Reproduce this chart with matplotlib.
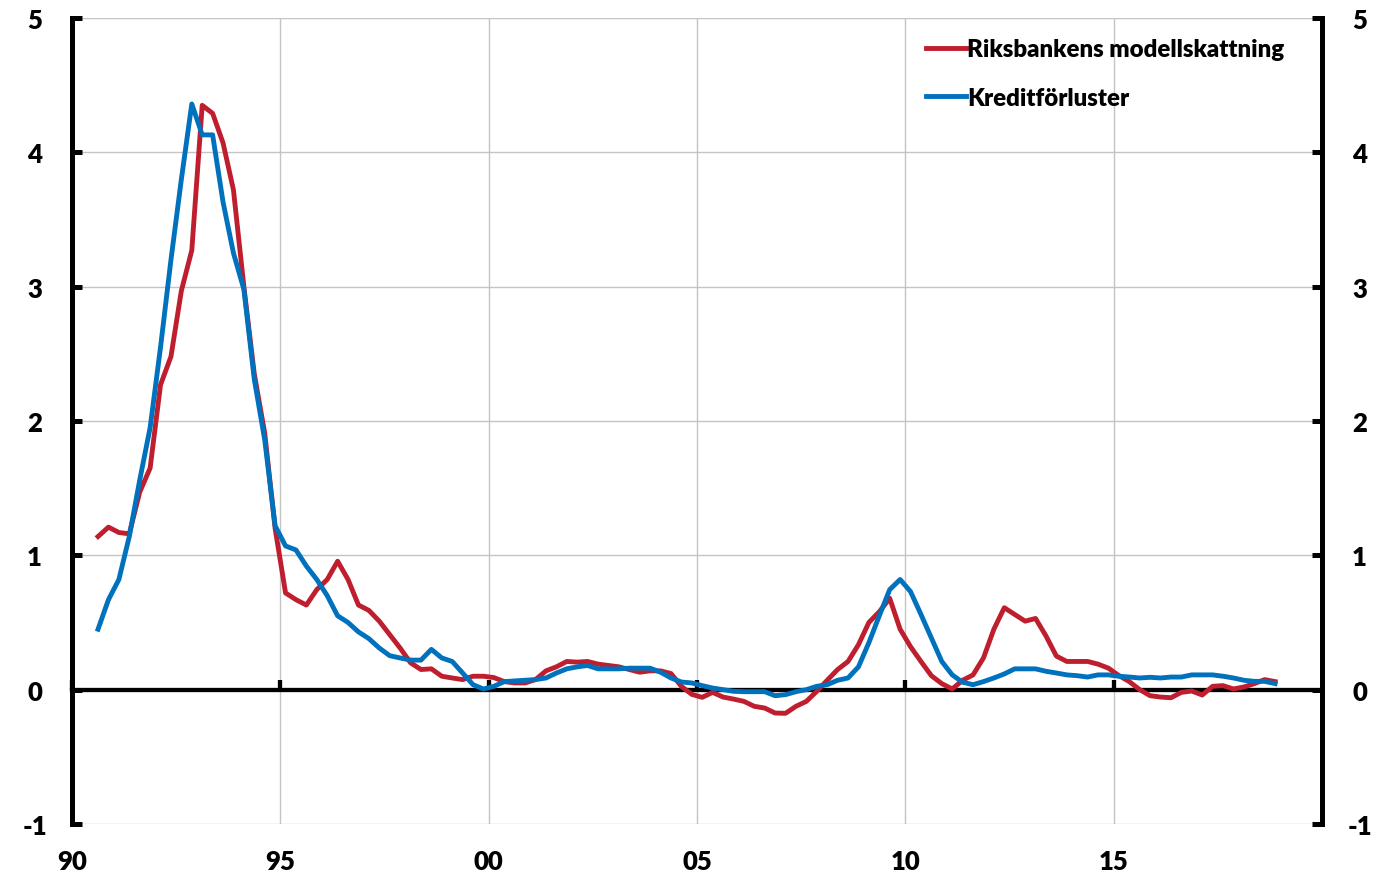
import numpy as np
import pandas as pd
import matplotlib
matplotlib.use("Agg")
import matplotlib.pyplot as plt

plt.rcParams['font.family'] = ['Lato', 'DejaVu Sans']
plt.rcParams['font.weight'] = 'heavy'

# Quarterly data, 1990Q3 - 2018Q4
start_quarter = '1990Q3'
end_quarter = '2018Q4'

riksbank_model = [
    1.14, 1.21, 1.17, 1.16, 1.47, 1.65, 2.27, 2.48, 2.97, 3.27,
    4.35, 4.29, 4.07, 3.72, 3.00, 2.35, 1.91, 1.20, 0.72, 0.67,
    0.63, 0.745, 0.82, 0.956, 0.82, 0.63, 0.59, 0.51, 0.41, 0.31,
    0.20, 0.15, 0.155, 0.10, 0.087, 0.075, 0.10, 0.10, 0.09, 0.06,
    0.05, 0.05, 0.075, 0.14, 0.17, 0.21, 0.205, 0.21, 0.19, 0.18,
    0.17, 0.15, 0.13, 0.14, 0.14, 0.12, 0.025, -0.035, -0.057, -0.02,
    -0.055, -0.07, -0.087, -0.124, -0.137, -0.174, -0.176, -0.124, -0.087, -0.012,
    0.07, 0.15, 0.21, 0.335, 0.50, 0.58, 0.68, 0.45, 0.32, 0.21,
    0.104, 0.045, 0.005, 0.07, 0.11, 0.236, 0.45, 0.61, 0.56, 0.51,
    0.53, 0.40, 0.25, 0.21, 0.21, 0.21, 0.19, 0.16, 0.105, 0.06,
    0.0, -0.045, -0.055, -0.06, -0.02, -0.01, -0.04, 0.025, 0.03, 0.005,
    0.02, 0.045, 0.075, 0.06,
]

credit_losses = [
    0.45, 0.67, 0.82, 1.14, 1.56, 1.95, 2.55, 3.20, 3.80, 4.36,
    4.13, 4.13, 3.63, 3.25, 2.98, 2.31, 1.86, 1.22, 1.07, 1.04,
    0.92, 0.82, 0.70, 0.55, 0.50, 0.43, 0.38, 0.31, 0.253, 0.236,
    0.22, 0.22, 0.30, 0.236, 0.21, 0.124, 0.037, 0.005, 0.025, 0.06,
    0.065, 0.07, 0.075, 0.087, 0.124, 0.155, 0.17, 0.18, 0.155, 0.155,
    0.155, 0.16, 0.16, 0.16, 0.13, 0.087, 0.057, 0.05, 0.03, 0.012,
    0.0, -0.012, -0.015, -0.015, -0.015, -0.045, -0.037, -0.015, 0.0, 0.025,
    0.037, 0.07, 0.087, 0.17, 0.35, 0.55, 0.745, 0.82, 0.73, 0.56,
    0.385, 0.21, 0.11, 0.055, 0.037, 0.06, 0.087, 0.117, 0.155, 0.155,
    0.155, 0.137, 0.124, 0.11, 0.104, 0.094, 0.11, 0.11, 0.10, 0.094,
    0.087, 0.092, 0.087, 0.094, 0.094, 0.11, 0.11, 0.11, 0.10, 0.087,
    0.07, 0.062, 0.062, 0.045,
]

series_labels = ['Riksbankens modellskattning', 'Kreditförluster']
x_tick_years = [1990, 1995, 2000, 2005, 2010, 2015]
x_tick_labels = ['90', '95', '00', '05', '10', '15']
y_ticks = [-1, 0, 1, 2, 3, 4, 5]

periods = pd.period_range(start_quarter, end_quarter, freq='Q')
x = periods.year + (periods.quarter - 0.5) / 4.0

RED = '#BE1E2D'
BLUE = '#0071BC'

fig = plt.figure(figsize=(13.77, 8.78), dpi=100)
ax = fig.add_axes([72 / 1377, 1 - 825 / 878, (1322 - 72) / 1377, (825 - 19) / 878])

ax.plot(x, riksbank_model, color=RED, lw=3.5, label=series_labels[0], zorder=4,
        solid_joinstyle='round')
ax.plot(x, credit_losses, color=BLUE, lw=3.5, label=series_labels[1], zorder=5,
        solid_joinstyle='round')

ax.set_xlim(1990, 2020)
ax.set_ylim(-1, 5)

# grid
ax.set_yticks(y_ticks)
ax.set_xticks(x_tick_years)
ax.grid(True, color='#c4c4c4', lw=1.0, zorder=0)
ax.set_axisbelow(True)

# spines
for s in ['left', 'right']:
    ax.spines[s].set_linewidth(3.6)
    ax.spines[s].set_color('black')
ax.spines['top'].set_visible(False)
ax.spines['bottom'].set_position(('data', 0))
ax.spines['bottom'].set_linewidth(3.1)
ax.spines['bottom'].set_zorder(3)

ax.tick_params(axis='y', which='both', direction='in', length=7, width=3.6,
               left=True, right=True, labelleft=True, labelright=True,
               labelsize=18.5, pad=27)
ax.tick_params(axis='x', direction='in', length=7, width=3.1, bottom=True,
               labelbottom=False)
ax.set_yticklabels([str(v) for v in y_ticks], fontweight='heavy')
for lbl in ax.get_yticklabels():
    lbl.set_horizontalalignment('center')

sec = ax.secondary_xaxis(location=0.0)
sec.set_xticks(x_tick_years)
sec.set_xticklabels(x_tick_labels, fontsize=18.5, fontweight='heavy')
sec.tick_params(length=0, pad=18)
sec.spines['bottom'].set_visible(False)

leg = ax.legend(loc='upper left', bbox_to_anchor=(0.6755, 0.987), frameon=False,
                fontsize=17.3, handlelength=1.65, handletextpad=0.06,
                labelspacing=1.1, borderaxespad=0)
for t in leg.get_texts():
    t.set_fontweight('heavy')

fig.savefig('out.png', dpi=100)
